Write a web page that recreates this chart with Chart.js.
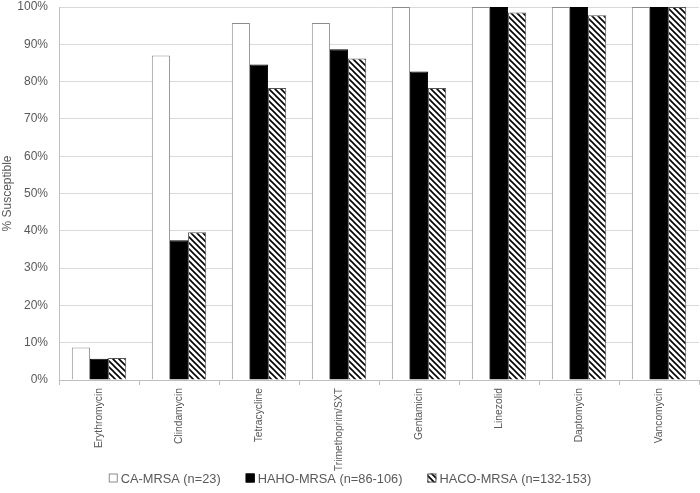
<!DOCTYPE html>
<html><head><meta charset="utf-8">
<script src="https://cdn.jsdelivr.net/npm/chart.js@4/dist/chart.umd.min.js"></script>
<style>html,body{margin:0;padding:0;background:#fff}#w{width:700px;height:493px}</style>
</head><body><div id="w"><canvas id="c"></canvas></div>
<script>
const categories = ["Erythromycin","Clindamycin","Tetracycline","Trimethoprim/SXT","Gentamicin","Linezolid","Daptomycin","Vancomycin"];
const caMRSA = [8.7, 87.0, 95.7, 95.7, 100, 100, 100, 100];
const hahoMRSA = [5.7, 37.5, 84.6, 88.7, 82.7, 100, 100, 100];
const hacoMRSA = [5.9, 39.6, 78.3, 86.2, 78.3, 98.5, 97.8, 100];
const seriesNames = ["CA-MRSA (n=23)", "HAHO-MRSA (n=86-106)", "HACO-MRSA (n=132-153)"];
const yTicks = [0,10,20,30,40,50,60,70,80,90,100];

function hatch(){
  const s = 6, p = document.createElement('canvas');
  p.width = s; p.height = s;
  const g = p.getContext('2d');
  g.fillStyle = '#fff'; g.fillRect(0,0,s,s);
  g.strokeStyle = '#000'; g.lineWidth = 1.6;
  g.beginPath();
  g.moveTo(0,0); g.lineTo(s,s);
  g.moveTo(-s/2, s/2); g.lineTo(s/2, s*1.5);
  g.moveTo(s/2, -s/2); g.lineTo(s*1.5, s/2);
  g.stroke();
  return g.createPattern(p,'repeat');
}
const pat = hatch();
const txt = '#595959';
const FAM = '"Liberation Sans", Arial, sans-serif';

const bottomLegend = {
  id:'bottomLegend',
  afterDraw(chart){
    const ctx = chart.ctx, ds = chart.data.datasets;
    ctx.save();
    ctx.font = '12.8px ' + FAM;
    const box = 9, gapBox = 3, gapItem = 25;
    const widths = ds.map(d => box + gapBox + ctx.measureText(d.label).width);
    const total = widths.reduce((a,b)=>a+b,0) + gapItem*(ds.length-1);
    let x = (chart.width - total)/2;
    const y = 478;
    ds.forEach((d,i) => {
      ctx.fillStyle = d.backgroundColor;
      ctx.fillRect(x, y-box/2, box, box);
      ctx.strokeStyle = d.borderColor; ctx.lineWidth = 1;
      ctx.strokeRect(x+0.5, y-box/2+0.5, box-1, box-1);
      ctx.fillStyle = txt; ctx.textBaseline = 'middle'; ctx.textAlign = 'left';
      ctx.fillText(d.label, x + box + gapBox, y+1);
      x += widths[i] + gapItem;
    });
    ctx.restore();
  }
};

new Chart(document.getElementById('c'), {
  type:'bar',
  data:{labels:categories, datasets:[
    {label:seriesNames[0], data:caMRSA, backgroundColor:'#fff', borderColor:'#8c8c8c', borderWidth:1},
    {label:seriesNames[1], data:hahoMRSA, backgroundColor:'#000', borderColor:'#000', borderWidth:1},
    {label:seriesNames[2], data:hacoMRSA, backgroundColor:pat, borderColor:'#555', borderWidth:1}
  ]},
  plugins:[bottomLegend],
  options:{
    responsive:true, maintainAspectRatio:false, animation:false,
    layout:{padding:{top:7,right:1,left:0,bottom:8}},
    datasets:{bar:{categoryPercentage:0.68, barPercentage:1}},
    plugins:{ tooltip:{enabled:false}, legend:{display:false} },
    scales:{
      x:{
        grid:{display:true, drawOnChartArea:false, offset:true, tickLength:5, color:'#bfbfbf'},
        border:{color:'#bfbfbf'},
        ticks:{font:{family:FAM,size:10.3}, color:txt, maxRotation:90, minRotation:90, padding:3, autoSkip:false},
        afterFit(a){ a.height = 105; a.paddingLeft = 0; a.paddingRight = 0; }
      },
      y:{
        min:0, max:100,
        afterBuildTicks(a){ a.ticks = yTicks.map(v=>({value:v})); },
        grid:{color:'#d9d9d9', drawTicks:false},
        border:{color:'#bfbfbf'},
        ticks:{font:{family:FAM,size:12}, color:txt, callback:v=>v+'%', padding:11},
        title:{display:true, text:'% Susceptible', font:{family:FAM,size:12}, color:txt, padding:{top:0,bottom:0}},
        afterFit(a){ a.width = 59; a.paddingTop = 0; a.paddingBottom = 0; }
      }
    }
  }
});
</script></body></html>
